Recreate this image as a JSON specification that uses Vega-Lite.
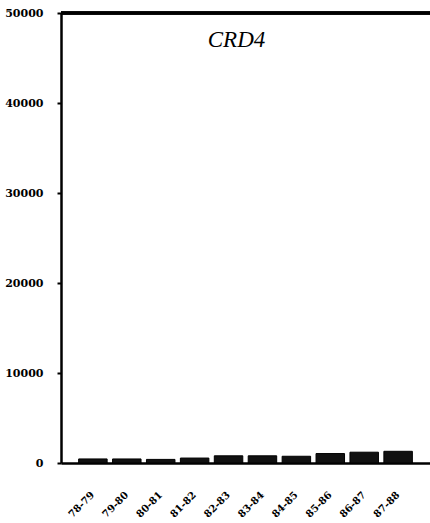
{
  "$schema": "https://vega.github.io/schema/vega-lite/v6.json",
  "width": 369,
  "height": 450,
  "autosize": {"type": "none"},
  "padding": {"left": 61, "top": 13, "right": 0, "bottom": 60},
  "background": "white",
  "title": {"text": "CRD4", "font": "Liberation Serif", "fontStyle": "italic", "fontWeight": "normal", "fontSize": 23, "color": "#000", "anchor": "middle", "frame": "group", "offset": -45, "dx": -9},
  "config": {"view": {"stroke": null}},
  "data": {"values": [
    {"year": "78-79", "value": 450},
    {"year": "79-80", "value": 450},
    {"year": "80-81", "value": 400},
    {"year": "81-82", "value": 550},
    {"year": "82-83", "value": 800},
    {"year": "83-84", "value": 800},
    {"year": "84-85", "value": 750},
    {"year": "85-86", "value": 1050},
    {"year": "86-87", "value": 1200},
    {"year": "87-88", "value": 1300}
  ]},
  "layer": [
    {
      "mark": {"type": "bar", "fill": "#111", "stroke": "#000", "strokeWidth": 1},
      "encoding": {
        "x": {"field": "year", "type": "ordinal", "sort": null,
          "scale": {"paddingInner": 0.16, "paddingOuter": 0.52},
          "axis": {"title": null, "ticks": false, "domain": true, "domainColor": "#000", "domainWidth": 2.5,
            "labelAngle": -45, "labelAlign": "right", "labelBaseline": "middle", "labelPadding": 30,
            "labelFont": "DejaVu Serif", "labelFontSize": 10, "labelFontWeight": "bold", "labelColor": "#000"}},
        "y": {"field": "value", "type": "quantitative",
          "scale": {"domain": [0, 50000], "nice": false},
          "axis": {"title": null, "values": [0, 10000, 20000, 30000, 40000, 50000], "format": "d", "grid": false,
            "domainColor": "#000", "domainWidth": 2.5, "tickColor": "#000", "tickWidth": 2, "tickSize": 4,
            "labelPadding": 14, "labelFont": "DejaVu Serif", "labelFontSize": 11, "labelFontWeight": "bold", "labelColor": "#000"}}
      }
    },
    {
      "mark": {"type": "rule", "color": "#000", "strokeWidth": 2.5},
      "encoding": {"y": {"datum": 50000}}
    }
  ]
}
